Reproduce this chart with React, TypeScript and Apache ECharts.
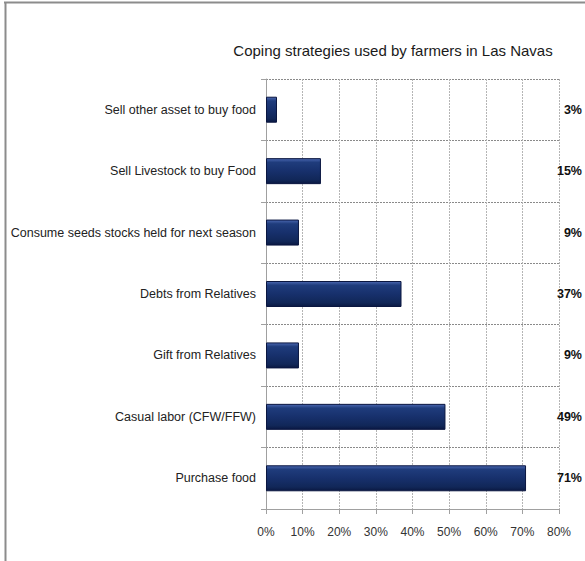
import React, { useEffect, useRef } from "react";
import * as echarts from "echarts";

const title = "Coping strategies used by farmers in Las Navas";
const categories = [
  "Sell other asset to buy food",
  "Sell Livestock to buy Food",
  "Consume seeds stocks held for next season",
  "Debts from Relatives",
  "Gift from Relatives",
  "Casual labor (CFW/FFW)",
  "Purchase food",
];
const values = [3, 15, 9, 37, 9, 49, 71];
const axisMin = 0;
const axisMax = 80;
const axisStep = 10;

const FONT = "'Liberation Sans Narrow', 'Liberation Sans', Arial, sans-serif";

export default function App() {
  const ref = useRef<HTMLDivElement>(null);
  useEffect(() => {
    if (!ref.current) return;
    const chart = echarts.init(ref.current, undefined, { renderer: "svg" });
    chart.setOption({
      animation: false,
      backgroundColor: "#ffffff",
      title: {
        text: title,
        left: 388,
        textAlign: "center",
        top: 38,
        textStyle: { fontFamily: FONT, fontSize: 15, fontWeight: "normal", color: "#1a1a1a" },
      },
      graphic: [
        { type: "line", shape: { x1: 4, y1: 2.5, x2: 585, y2: 2.5 }, style: { stroke: "#8c8c8c", lineWidth: 2 } },
        { type: "line", shape: { x1: 5.5, y1: 2, x2: 5.5, y2: 561 }, style: { stroke: "#8c8c8c", lineWidth: 2 } },
      ],
      grid: { left: 266, right: 23, top: 79, bottom: 52, containLabel: false },
      xAxis: {
        type: "value",
        min: axisMin,
        max: axisMax,
        interval: axisStep,
        axisLine: { show: true, lineStyle: { color: "#a0a0a0", width: 1 } },
        axisTick: { show: true, length: 5, lineStyle: { color: "#a0a0a0" } },
        axisLabel: {
          formatter: (v: number) => `${v}%`,
          fontFamily: FONT,
          fontSize: 12,
          color: "#333",
          margin: 17,
        },
        splitLine: { show: true, lineStyle: { color: "#b5b5b5", type: [2, 1], width: 1 } },
      },
      yAxis: [
        {
          type: "category",
          data: categories,
          inverse: true,
          axisLine: { show: true, lineStyle: { color: "#a0a0a0" } },
          axisTick: { show: true, length: 5, lineStyle: { color: "#a0a0a0" } },
          axisLabel: { fontFamily: FONT, fontSize: 12.5, color: "#222", margin: 10 },
          splitLine: { show: true, lineStyle: { color: "#8a8a8a", type: [2, 1], width: 1 } },
        },
        {
          type: "category",
          data: values.map((v) => `${v}%`),
          inverse: true,
          position: "right",
          axisLine: { show: false },
          axisTick: { show: false },
          axisLabel: {
            fontFamily: FONT,
            fontSize: 12.5,
            fontWeight: "bold",
            color: "#111",
            align: "right",
            margin: 23,
          },
          splitLine: { show: false },
        },
      ],
      series: [
        {
          type: "bar",
          data: values,
          yAxisIndex: 0,
          barWidth: 26,
          itemStyle: {
            borderColor: "#0a1640",
            borderWidth: 1,
            color: new echarts.graphic.LinearGradient(0, 0, 0, 1, [
              { offset: 0, color: "#4a67b0" },
              { offset: 0.15, color: "#1f3c7c" },
              { offset: 0.5, color: "#17306c" },
              { offset: 0.85, color: "#112758" },
              { offset: 1, color: "#0a1842" },
            ]),
          },
        },
      ],
    });
    return () => chart.dispose();
  }, []);
  return (
    <div
      ref={ref}
      style={{ position: "fixed", left: 0, top: 0, width: 585, height: 561 }}
    />
  );
}
